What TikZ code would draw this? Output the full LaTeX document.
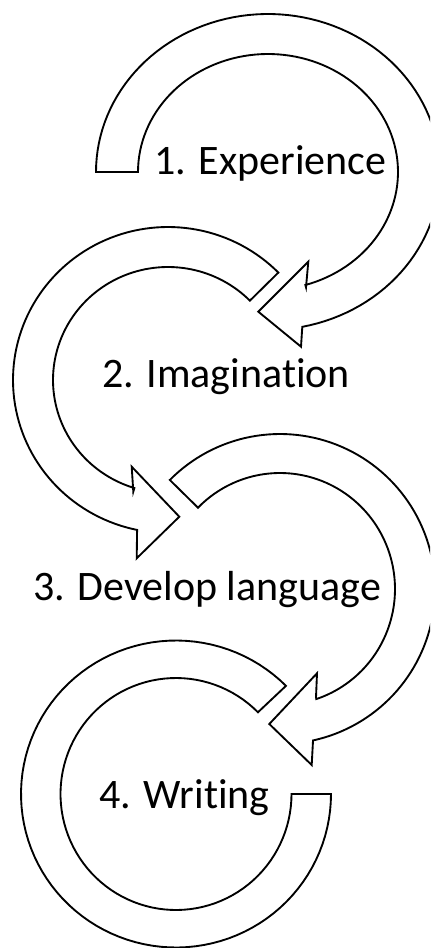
\documentclass[tikz,border=0pt]{standalone}
\usepackage{fontspec}
\setmainfont{Carlito}[Ligatures={NoCommon,NoRequired,NoContextual}]
\begin{document}
\begin{tikzpicture}[x=0.75pt,y=-0.75pt,
  band/.style={draw=black, fill=white, line width=1.4pt, line join=miter},
  lbl/.style={anchor=base, inner sep=0pt, font=\fontsize{31.5}{38}\selectfont}]
\useasboundingbox (0,0) rectangle (430,948);
\begin{scope}
\clip (0,0) rectangle (430,948);
% shape 1: Experience
\draw[band] plot[domain=180:438.5, samples=100] ({268+172*cos(\x)},{172+158*sin(\x)})
  -- (301,346.7) -- (258.3,311.7) -- (308.3,261.7) -- (306,287.3)
  -- plot[domain=433.3:180, samples=100] ({268+130*cos(\x)},{172+118*sin(\x)}) -- cycle;
% shape 2: Imagination
\draw[band] plot[domain=-44.6:-258.5, samples=100] ({168+155*cos(\x)},{380+153*sin(\x)})
  -- (136.7,558.3) -- (179.3,516.7) -- (131.7,466.7) -- (133.3,491.7)
  -- plot[domain=-253:-44.6, samples=100] ({168+115*cos(\x)},{380+113*sin(\x)}) -- cycle;
% shape 3: Develop language
\draw[band] plot[domain=-135.3:77.7, samples=100] ({280+155*cos(\x)},{589+155*sin(\x)})
  -- (311.7,765) -- (269.3,724) -- (317,673.3) -- (316,697.3)
  -- plot[domain=71.6:-135.5, samples=100] ({280+115*cos(\x)},{589+116*sin(\x)}) -- cycle;
% shape 4: Writing
\draw[band] plot[domain=-44.8:-360, samples=100] ({176+155*cos(\x)},{794+153.5*sin(\x)})
  -- plot[domain=-360:-44.8, samples=100] ({176+115.5*cos(\x)},{794+116*sin(\x)}) -- cycle;
\end{scope}
\node[lbl] (t1) at (270.5,175) {1. Experience};
\node[lbl] (t2) at (226,387) {2. Imagination};
\node[lbl] (t3) at (207,600) {3. Develop language};
\node[lbl] (t4) at (184.5,808) {4. Writing};
\end{tikzpicture}
\end{document}
